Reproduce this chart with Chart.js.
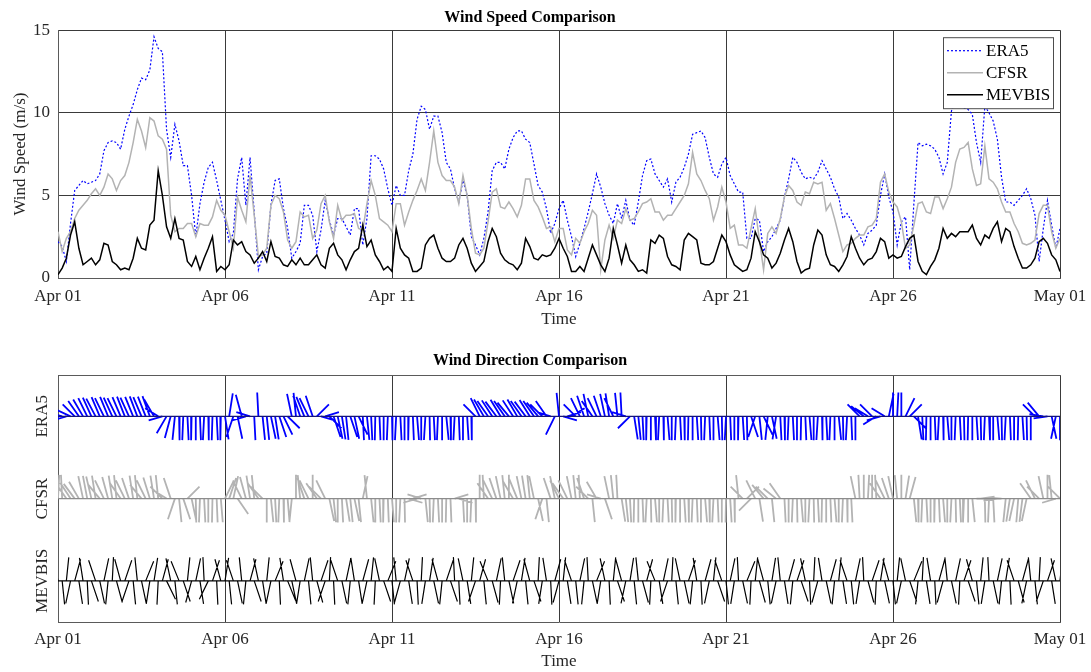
<!DOCTYPE html>
<html>
<head>
<meta charset="utf-8">
<title>Wind Comparison</title>
<script src="https://cdn.jsdelivr.net/npm/chart.js@4.4.1/dist/chart.umd.min.js"></script>
<style>
  body { margin: 0; background: #fff; }
  canvas { display: block; }
</style>
</head>
<body>
<canvas id="speedChart" width="1091" height="336"></canvas>
<canvas id="dirChart" width="1091" height="336"></canvas>
<script>
// 3-hourly samples, Apr 01 00:00 to May 01 00:00
var stepHours = 3;
var dateTicks = ['Apr 01', 'Apr 06', 'Apr 11', 'Apr 16', 'Apr 21', 'Apr 26', 'May 01'];
var seriesNames = ['ERA5', 'CFSR', 'MEVBIS'];

// wind speed (m/s)
var era5Speed = [
  2.2,1.9,1.0,3.3,5.3,5.6,5.9,5.7, 5.8,5.9,6.3,7.7,8.2,8.3,8.2,7.8,
  9.0,9.8,10.5,11.4,12.1,12.0,12.6,14.6, 13.9,13.7,9.0,7.3,9.3,8.3,6.8,6.8,
  5.0,2.5,4.5,5.8,6.7,7.0,5.9,4.7, 3.5,2.2,2.7,6.0,7.3,4.4,7.3,4.0,
  0.5,1.3,1.5,4.4,5.9,6.0,4.2,3.0, 1.2,1.6,2.1,4.4,4.4,3.8,1.6,2.9,
  4.7,3.5,2.6,3.6,3.6,3.1,2.6,4.2, 4.2,2.0,3.6,7.4,7.4,7.2,6.6,5.4,
  4.4,5.6,5.0,5.0,6.5,7.5,9.6,10.4, 10.2,9.0,9.8,9.8,8.8,7.0,6.6,5.4,
  4.6,5.9,5.0,2.5,2.0,1.4,2.4,4.0, 6.5,7.0,7.0,6.6,7.8,8.5,8.9,8.9,
  8.4,8.2,6.9,5.6,5.2,4.2,2.7,3.3, 4.2,4.7,3.5,2.5,1.3,2.1,3.0,4.0,
  5.1,6.3,5.5,4.5,3.8,3.3,4.5,3.6, 4.7,3.5,3.2,4.6,6.2,7.1,7.2,6.3,
  5.9,5.5,6.0,4.6,5.8,6.1,6.7,7.5, 8.7,8.8,8.9,8.5,7.3,6.3,6.1,6.9,
  7.3,6.2,5.7,5.2,5.2,2.4,2.4,3.6, 3.5,1.6,2.2,2.5,3.0,3.5,4.9,6.0,
  7.3,7.0,6.4,6.0,6.1,6.0,6.4,7.1, 6.6,6.1,5.4,4.9,3.6,3.9,3.5,3.0,
  2.6,2.0,2.7,2.9,3.2,5.0,6.3,4.9, 4.0,2.0,3.4,3.7,0.5,4.5,8.2,8.0,
  8.1,8.0,7.8,7.3,6.3,7.0,10.1,10.8, 10.9,10.3,10.2,9.9,8.2,7.0,10.4,10.0,
  9.5,8.4,6.1,4.6,4.6,4.4,4.7,5.0, 5.4,4.8,3.8,1.0,3.0,4.7,3.2,1.8,
  3.0
];
var cfsrSpeed = [
  2.8,1.6,2.4,2.8,3.6,4.1,4.4,4.7, 5.1,5.4,5.0,5.5,6.3,6.0,5.3,5.9,
  6.2,7.0,8.2,9.6,8.9,7.9,9.7,9.5, 8.6,8.4,7.8,3.8,2.8,3.0,3.0,3.3,
  3.3,2.5,3.3,3.2,3.2,3.7,4.7,4.1, 3.8,2.8,1.8,4.9,4.1,3.4,6.2,3.8,
  1.3,1.4,1.8,4.4,5.0,4.8,4.0,2.3, 1.8,2.2,4.0,3.7,3.8,2.4,2.9,4.5,
  5.0,3.4,2.4,4.4,3.5,3.8,3.8,3.9, 3.0,2.9,4.5,5.9,5.0,3.6,3.4,3.2,
  2.8,4.5,4.5,3.2,4.0,4.7,5.3,6.0, 5.3,7.0,8.9,7.0,6.2,5.9,5.9,5.5,
  4.5,6.2,5.0,3.0,1.5,1.4,1.8,3.4, 5.2,5.4,4.3,4.2,4.6,4.2,3.7,4.4,
  6.0,6.0,4.7,4.3,3.7,3.0,3.1,2.2, 3.0,3.0,1.7,1.4,2.4,2.1,2.8,3.3,
  4.1,3.8,0.5,2.3,3.2,2.4,3.5,3.3, 4.2,3.5,3.6,4.0,4.5,4.6,4.8,4.0,
  4.0,3.5,3.8,3.8,4.2,4.6,5.0,5.7, 7.6,6.3,5.9,5.3,4.8,3.5,4.3,5.5,
  4.6,3.0,3.2,2.0,2.0,1.8,3.0,4.2, 2.3,0.5,2.7,3.1,2.7,3.6,4.9,5.6,
  5.3,4.6,4.4,5.2,5.1,5.8,5.7,5.8, 4.1,4.5,3.6,2.6,1.6,2.0,2.1,2.4,
  2.6,2.6,3.1,3.2,3.6,5.8,6.3,5.2, 4.6,4.3,3.4,1.8,2.0,3.2,4.5,4.6,
  4.0,3.9,4.9,4.9,4.2,4.8,5.5,7.0, 7.8,7.9,8.2,6.6,5.6,5.7,8.0,6.0,
  5.8,5.4,4.6,4.0,4.0,3.3,2.8,2.1, 2.0,2.1,2.3,3.9,4.4,4.4,2.8,1.8,
  2.4
];
var mevbisSpeed = [
  0.2,0.6,1.2,2.6,3.4,1.8,0.8,1.0, 1.2,0.8,1.1,2.1,2.0,1.0,0.8,0.5,
  0.6,0.5,1.2,2.4,1.8,1.7,3.2,3.5, 6.5,5.0,3.1,2.4,3.6,2.4,2.3,1.0,
  0.7,1.3,0.5,1.2,1.8,2.5,0.4,0.7, 0.5,0.8,2.3,2.0,2.2,1.6,1.4,0.9,
  1.2,1.6,1.0,2.2,1.3,1.2,0.8,0.7, 1.1,0.8,1.2,0.8,0.8,1.1,1.4,0.8,
  0.6,1.8,2.1,1.4,1.1,0.5,1.1,1.6, 1.8,3.2,1.9,2.3,1.4,1.0,0.5,0.7,
  0.4,3.0,1.8,1.4,1.2,0.4,0.4,0.6, 2.0,2.4,2.6,1.8,1.2,1.0,1.0,1.2,
  2.0,2.4,1.8,0.9,0.4,0.7,1.0,2.2, 3.0,2.5,1.5,1.1,0.9,0.8,0.5,0.9,
  2.4,1.9,1.2,1.1,1.4,1.3,1.4,1.8, 2.4,1.8,1.3,0.4,0.4,0.7,0.4,1.2,
  2.0,1.4,0.8,0.4,1.2,3.0,2.0,0.9, 2.0,1.1,0.8,0.4,0.5,0.3,2.3,2.1,
  2.6,2.4,1.3,0.8,0.7,0.5,2.3,2.7, 2.5,2.3,0.9,0.8,0.8,1.0,1.8,2.6,
  2.2,1.4,0.8,0.6,0.4,0.5,1.2,2.8, 2.2,1.4,1.2,0.6,0.9,1.5,2.3,3.0,
  2.2,1.0,0.3,0.5,0.6,2.0,2.9,2.6, 1.4,0.8,0.7,0.4,0.8,1.3,2.5,1.8,
  1.2,0.8,1.1,1.2,1.6,2.4,2.2,1.2, 1.4,1.2,1.3,1.9,2.4,2.6,1.0,0.4,
  0.2,0.7,1.1,1.8,3.0,2.4,2.7,2.5, 2.8,2.8,2.8,3.2,2.4,2.0,2.6,2.4,
  3.0,3.4,2.2,3.0,2.8,1.9,1.2,0.6, 0.6,0.8,1.2,2.2,2.4,2.1,1.4,1.1,
  0.4
];

// direction the wind blows toward, degrees clockwise from north
var era5Dir = [
  -150,-80,-100,-75,-60,-50,-45,
  -40,-38,-42,-36,-40,-35,-38,-40,-36,-34,-38,-35,-33,-36,-34,-32,
  -45,-70,-100,-135,-155,-170,
  178,-176,175,-178,180,176,-175,178,-177,175,-178,
  165,15,-150,160,-25,-100,-80,175,-5,170,
  170,160,165,150,140,120,
  -20,-10,-30,-35,-40,-30,
  60,100,80,120,
  150,160,165,170,150,160,140,175,170,175,-178,176,180,-176,
  178,-175,175,180,-178,176,172,180,-174,178,175,-176,180,170,178,-175,176,180,174,178,
  -60,-40,
  -45,-50,-48,-52,-46,-50,-55,-48,-45,-50,-52,-47,-50,-55,-60,-50,
  -80,-140,-10,
  100,80,70,
  -60,-40,-30,-20,-50,-40,-30,-20,-15,-40,-10,-5,
  -80,-120,
  165,170,175,-178,180,176,-175,178,172,180,-176,175,178,-178,180,174,178,-176,176,180,172,178,-175,176,180,-178,174,178,
  150,-150,170,140,-170,160,-165,175,
  178,-176,175,180,-178,176,172,180,-174,178,175,-176,180,170,178,-175,176,180,
  -60,-65,-70,-60,-110,-100,-70,
  20,0,5,0,
  40,60,120,
  165,175,-178,180,176,-175,178,172,180,-176,175,178,-178,180,174,178,-176,176,180,172,178,-175,176,180,-178,174,178,180,
  -60,-55,-85,-95,
  160,-160,180
];
var cfsrDir = [
  5,-5,
  -50,-48,-52,-45,
  -20,-18,-22,-15,
  -55,-40,-25,-15,-10,-50,-40,-30,-15,-10,-55,-40,-28,-15,-10,
  -60,
  -70,-30,-150,170,150,60,160,
  178,-176,175,180,-178,176,172,
  40,30,20,
  130,
  -40,-25,-15,-10,-50,-60,
  180,170,175,-176,178,172,-170,
  0,-10,
  -30,-40,
  0,
  -50,-60,-40,
  160,170,180,175,165,170,160,
  170,
  20,-10,
  170,180,175,-178,176,172,180,-175,178,
  100,80,
  -100,-80,
  170,178,-176,175,180,-178,176,
  80,100,
  175,180,-176,178,
  0,-5,
  -50,-40,-30,-20,-10,0,-45,-35,-20,
  -15,-10,-20,
  160,-150,170,
  -30,-20,-40,
  -50,-40,-20,-10,-5,-30,
  -60,170,-45,-80,150,
  -20,-10,-5,
  165,170,175,-178,180,176,-175,178,172,180,-176,175,178,-178,180,174,178,-176,176,180,172,178,-175,176,180,-178,174,178,
  -10,-60,60,-120,
  -40,165,-55,-60,170,-65,-50,
  175,180,-176,178,172,180,-175,
  178,175,-178,180,176,172,180,-176,178,175,
  -20,-5,0,5,0,-5,
  -50,-40,-30,-20,-10,0,15,25,
  170,178,-176,175,180,-178,176,172,180,-175,178,175,-176,180,170,
  90,85,
  178,-176,175,
  -95,-88,
  -170,-165,-160,-172,-168,-160,
  -50,-40,-60,-20,0,-10,-100,-60
];
var mevbisDir = [
  -20,170,10,-160,25,165,-15,175, 150,-30,160,20,-170,5,155,-25,
  30,-150,170,-10,160,35,-165,15, -175,25,140,-20,170,-35,150,10,
  -155,20,165,-5,-140,30,175,-25, 15,170,-30,160,-10,-170,25,150,
  -20,165,10,-160,35,175,-15,145, 160,-25,-165,20,170,-10,155,30,
  -150,5,175,-30,160,20,-170,-15, 165,25,-160,10,-175,-20,150,35,
  170,-10,-155,20,165,-30,175,5, -165,15,160,-25,-170,30,150,-5,
  175,-20,165,10,-150,25,170,-35, 155,20,-175,-10,160,30,-160,15,
  170,-25,150,5,-165,-15,175,25, -155,10,165,-30,170,20,-170,-5,
  160,35,-165,-20,175,10,150,-25, -160,15,170,-10,155,25,-175,-35,
  165,20,-150,5,170,-20,160,30, -170,-15,175,25,-160,10,150,-30,
  170,20,-165,-5,160,35,-175,10, 155,-25,170,15,-160,-10,165,25,
  -170,30,150,-20,175,5,-155,-15, 160,25,-170,10,165,-30,170,20,
  -165,-5,155,30,-175,15,160,-25, 170,10,-160,-20,150,35,-170,5,
  165,-15,175,25,-155,-10,160,20, -175,30,150,-25,170,10,-165,-5,
  160,20,-170,15,175,-30,155,25, -160,-10,170,5,-150,30,165,-20,
  10
];

var serif = "'Liberation Serif', 'Times New Roman', serif";
var tickFont = { family: serif, size: 17 };
var inkColor = '#262626';
var gridColor = '#3a3a3a';
var boxColor = '#5a5a5a';

function toPoints(values) {
  return values.map(function (v, i) { return { x: i * stepHours, y: v }; });
}

// feather segments: one stroke per sample, starting on the series baseline
var featherX = 10;    // hours for a purely east/west vector
var featherY = 0.29;  // axis units for a purely north/south vector
function featherPoints(dirs, base) {
  var pts = [];
  dirs.forEach(function (deg, i) {
    var t = i * stepHours;
    var a = deg * Math.PI / 180;
    var x2 = t + featherX * Math.sin(a);
    var y2 = base + featherY * Math.cos(a);
    pts.push({ x: t, y: base }, { x: x2, y: y2 }, { x: x2, y: null });
  });
  return pts;
}

function timeAxis(height, labelPad, titlePad) {
  return {
    type: 'linear',
    min: 0,
    max: 720,
    afterFit: function (s) {
      s.height = height;
      // let the end labels hang past the plot edges
      s.paddingLeft = 0;
      s.paddingRight = 0;
    },
    ticks: {
      stepSize: 120,
      maxRotation: 0,
      padding: labelPad,
      font: tickFont,
      color: inkColor,
      callback: function (v) { return dateTicks[v / 120]; }
    },
    grid: { color: gridColor, drawTicks: false },
    border: { color: boxColor },
    title: { display: true, text: 'Time', font: tickFont, color: inkColor, padding: { top: 0, bottom: titlePad } }
  };
}

// legend drawn inside the plot, top right
var insideLegend = {
  id: 'insideLegend',
  afterDatasetsDraw: function (chart) {
    var ctx = chart.ctx, area = chart.chartArea;
    var w = 110, h = 71, rowH = 22;
    var x0 = area.right - w - 7, y0 = area.top + 7;
    ctx.save();
    ctx.fillStyle = '#fff';
    ctx.fillRect(x0, y0, w, h);
    ctx.strokeStyle = '#4d4d4d';
    ctx.lineWidth = 1;
    ctx.strokeRect(x0 + 0.5, y0 + 0.5, w, h);
    ctx.font = '17px ' + serif;
    ctx.textBaseline = 'middle';
    chart.data.datasets.forEach(function (ds, i) {
      var y = y0 + 13.5 + i * rowH;
      ctx.strokeStyle = ds.borderColor;
      ctx.lineWidth = ds.borderWidth;
      ctx.setLineDash(ds.borderDash || []);
      ctx.beginPath();
      ctx.moveTo(x0 + 4, y);
      ctx.lineTo(x0 + 40, y);
      ctx.stroke();
      ctx.setLineDash([]);
      ctx.fillStyle = '#000';
      ctx.fillText(ds.label, x0 + 43, y + 1);
    });
    ctx.restore();
  }
};

new Chart(document.getElementById('speedChart'), {
  type: 'line',
  data: {
    datasets: [
      { label: 'ERA5', data: toPoints(era5Speed), borderColor: '#0000ff', borderWidth: 1.2, borderDash: [2, 2], order: 3 },
      { label: 'CFSR', data: toPoints(cfsrSpeed), borderColor: '#b3b3b3', borderWidth: 1.5, order: 2 },
      { label: 'MEVBIS', data: toPoints(mevbisSpeed), borderColor: '#000000', borderWidth: 1.5, order: 1 }
    ]
  },
  options: {
    responsive: false,
    animation: false,
    layout: { padding: { right: 31 } },
    elements: { point: { radius: 0 }, line: { tension: 0 } },
    plugins: {
      legend: { display: false },
      tooltip: { enabled: false },
      title: {
        display: true,
        text: 'Wind Speed Comparison',
        color: '#000',
        font: { family: serif, size: 16, weight: 'bold' },
        padding: { top: 8, bottom: 3 }
      }
    },
    scales: {
      x: timeAxis(58, 8, 6),
      y: {
        min: 0,
        max: 15,
        afterFit: function (s) { s.width = 58; },
        ticks: { stepSize: 5, padding: 8, font: tickFont, color: inkColor },
        grid: { color: gridColor, drawTicks: false },
        border: { color: boxColor },
        title: { display: true, text: 'Wind Speed (m/s)', font: tickFont, color: inkColor, padding: { top: 10, bottom: 0 } }
      }
    }
  },
  plugins: [insideLegend]
});

var dirColors = ['#0000ff', '#b3b3b3', '#000000'];
var dirWidths = [1.8, 1.8, 1.2];
var baseColors = ['#14147a', '#8c8c8c', '#000000'];
var dirSeries = [era5Dir, cfsrDir, mevbisDir];
var dirDatasets = [];
dirSeries.forEach(function (dirs, i) {
  var base = 3 - i;
  dirDatasets.push({
    label: seriesNames[i],
    data: featherPoints(dirs, base),
    borderColor: dirColors[i],
    borderWidth: dirWidths[i],
    order: 2
  });
  dirDatasets.push({
    label: seriesNames[i] + ' base',
    data: [{ x: 0, y: base }, { x: 720, y: base }],
    borderColor: baseColors[i],
    borderWidth: 1.2,
    order: 1
  });
});

new Chart(document.getElementById('dirChart'), {
  type: 'scatter',
  data: { datasets: dirDatasets },
  options: {
    responsive: false,
    animation: false,
    showLine: true,
    layout: { padding: { right: 31 } },
    elements: { point: { radius: 0 }, line: { tension: 0 } },
    plugins: {
      legend: { display: false },
      tooltip: { enabled: false },
      title: {
        display: true,
        text: 'Wind Direction Comparison',
        color: '#000',
        font: { family: serif, size: 16, weight: 'bold' },
        padding: { top: 15, bottom: 5 }
      }
    },
    scales: {
      x: timeAxis(50, 7, 0),
      xTop: {
        type: 'linear',
        position: 'top',
        min: 0,
        max: 720,
        afterFit: function (s) { s.height = 0; s.paddingLeft = 0; s.paddingRight = 0; },
        ticks: { display: false },
        grid: { display: false, drawTicks: false },
        border: { color: boxColor }
      },
      y: {
        min: 0.5,
        max: 3.5,
        afterFit: function (s) { s.width = 58; },
        afterBuildTicks: function (s) {
          s.ticks = [{ value: 1 }, { value: 2 }, { value: 3 }];
        },
        ticks: {
          minRotation: 90,
          maxRotation: 90,
          crossAlign: 'center',
          padding: -17,
          font: tickFont,
          color: inkColor,
          callback: function (v) { return seriesNames[3 - v]; }
        },
        grid: { display: false, drawTicks: false },
        border: { color: boxColor }
      }
    }
  }
});
</script>
</body>
</html>
